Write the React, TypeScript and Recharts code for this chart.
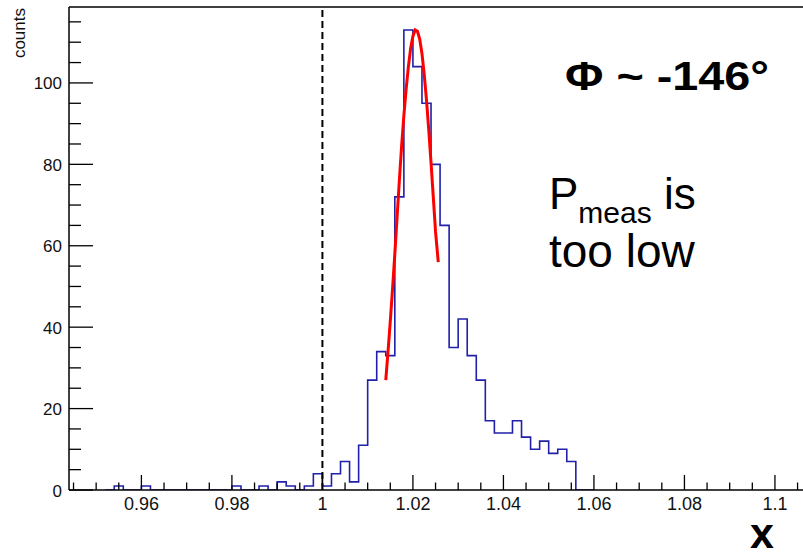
import { ComposedChart, Line, ReferenceLine, XAxis, YAxis } from 'recharts';

const FONT = '"Liberation Sans", Arial, Helvetica, sans-serif';

// histogram bins: low edge of first bin, bin width, counts per bin
const binStart = 0.952;
const binWidth = 0.002;
const binCounts = [
  0, 1, 0, 0, 1, 0, // 0.952 - 0.962
  0, 0, 0, 0, 0, 0, 0, 0, // 0.964 - 0.978
  1, 0, 0, 1, 0, 2, 1, 0, 1, 4, // 0.980 - 0.998
  1, 4, 7, 2, 11, 27, 34, 33, 72, 113, // 1.000 - 1.018
  104, 95, 80, 65, 35, 42, 33, 27, 17, 14, // 1.020 - 1.038
  14, 17, 13, 10, 12, 9, 10, 7, 0, 0, // 1.040 - 1.058
];

// gaussian fit curve
const fitX = [
  1.014, 1.0145, 1.015, 1.0155, 1.016, 1.0165, 1.017, 1.0175, 1.018, 1.0185, 1.019, 1.0195,
  1.02, 1.0205, 1.021, 1.0215, 1.022, 1.0225, 1.023, 1.0235, 1.024, 1.0245, 1.025, 1.0256,
];
const fitY = [
  27, 34, 41.5, 49.5, 58, 67, 76, 84.5, 92, 98.5, 104, 108.5,
  111.5, 113, 112.7, 110.8, 107.2, 102, 95.8, 88.4, 80.4, 72, 63.4, 56,
];

const xTicks = [
  0.945, 0.95, 0.955, 0.96, 0.965, 0.97, 0.975, 0.98, 0.985, 0.99, 0.995, 1, 1.005, 1.01, 1.015,
  1.02, 1.025, 1.03, 1.035, 1.04, 1.045, 1.05, 1.055, 1.06, 1.065, 1.07, 1.075, 1.08, 1.085,
  1.09, 1.095, 1.1, 1.105,
];
const xMajor = [0.96, 0.98, 1, 1.02, 1.04, 1.06, 1.08, 1.1];
const xLabels = ['0.96', '0.98', '1', '1.02', '1.04', '1.06', '1.08', '1.1'];

const yTicks = [0, 5, 10, 15, 20, 25, 30, 35, 40, 45, 50, 55, 60, 65, 70, 75, 80, 85, 90, 95, 100, 105, 110, 115];
const yMajor = [0, 20, 40, 60, 80, 100];

const X_DOMAIN: [number, number] = [0.944, 1.1062];
const Y_DOMAIN: [number, number] = [0, 118.65];

const histData = [
  ...binCounts.map((c, i) => ({ x: +(binStart + i * binWidth).toFixed(3), y: c })),
  { x: +(binStart + binCounts.length * binWidth).toFixed(3), y: 0 },
];
const fitData = fitX.map((x, i) => ({ x, y: fitY[i] }));

function YTick(props: any) {
  const { x, y, payload } = props;
  const v = payload.value;
  const major = yMajor.includes(v);
  return (
    <g>
      <line x1={x} x2={x + (major ? 24 : 12)} y1={y} y2={y} stroke="#000" strokeWidth={1.3} />
      {major && (
        <text x={x - 7} y={y + 6.5} textAnchor="end" fontSize={17} fontFamily={FONT} fill="#111">
          {v}
        </text>
      )}
    </g>
  );
}

function XTick(props: any) {
  const { x, y, payload } = props;
  const idx = xMajor.findIndex((m) => Math.abs(m - payload.value) < 1e-9);
  const major = idx >= 0;
  return (
    <g>
      <line x1={x} x2={x} y1={y} y2={y - (major ? 15 : 7.5)} stroke="#000" strokeWidth={1.3} />
      {major && (
        <text x={x} y={y + 20} textAnchor="middle" fontSize={18} fontFamily={FONT} fill="#111">
          {xLabels[idx]}
        </text>
      )}
    </g>
  );
}

export default function App() {
  return (
    <div style={{ position: 'absolute', left: 0, top: 0, width: 803, height: 553, background: '#fff' }}>
      <ComposedChart width={803} height={553} margin={{ top: 7, right: 0, bottom: 0, left: 0 }}>
        <XAxis
          type="number"
          dataKey="x"
          domain={X_DOMAIN}
          allowDataOverflow
          ticks={xTicks}
          interval={0}
          height={63}
          tickSize={0}
          tickMargin={0}
          tickLine={false}
          axisLine={{ stroke: '#000', strokeWidth: 1.5 }}
          tick={(p: any) => <XTick {...p} />}
        />
        <YAxis
          type="number"
          dataKey="y"
          domain={Y_DOMAIN}
          allowDataOverflow
          ticks={yTicks}
          interval={0}
          width={69}
          tickSize={0}
          tickMargin={0}
          tickLine={false}
          axisLine={{ stroke: '#000', strokeWidth: 1.5 }}
          tick={(p: any) => <YTick {...p} />}
        />
        <ReferenceLine y={Y_DOMAIN[1]} stroke="#000" strokeWidth={1.5} />
        <Line
          data={histData}
          dataKey="y"
          type="stepAfter"
          stroke="#2020a8"
          strokeWidth={1.6}
          dot={false}
          isAnimationActive={false}
        />
        <Line
          data={fitData}
          dataKey="y"
          type="linear"
          stroke="#ff0000"
          strokeWidth={3}
          dot={false}
          isAnimationActive={false}
        />
        <ReferenceLine x={1} stroke="#000" strokeWidth={2} strokeDasharray="7 4" />
      </ComposedChart>
      <svg
        width={803}
        height={553}
        style={{ position: 'absolute', left: 0, top: 0, pointerEvents: 'none' }}
        fontFamily={FONT}
      >
        <text x={25} y={8} transform="rotate(-90 25 8)" textAnchor="end" fontSize={17} fill="#111">
          counts
        </text>
        <text x={750} y={548} fontSize={43} fontWeight="bold" fill="#000">
          x
        </text>
        <text x={565} y={90} fontSize={40} fontWeight="bold" fill="#000" textLength={204} lengthAdjust="spacingAndGlyphs">
          Φ ~ -146°
        </text>
        <text x={549} y={209} fontSize={44} fill="#000">
          <tspan>P</tspan>
          <tspan fontSize={30} dy={14}>meas</tspan>
          <tspan dy={-14}> is</tspan>
        </text>
        <text x={549} y={267} fontSize={46} fill="#000">
          too low
        </text>
      </svg>
    </div>
  );
}
